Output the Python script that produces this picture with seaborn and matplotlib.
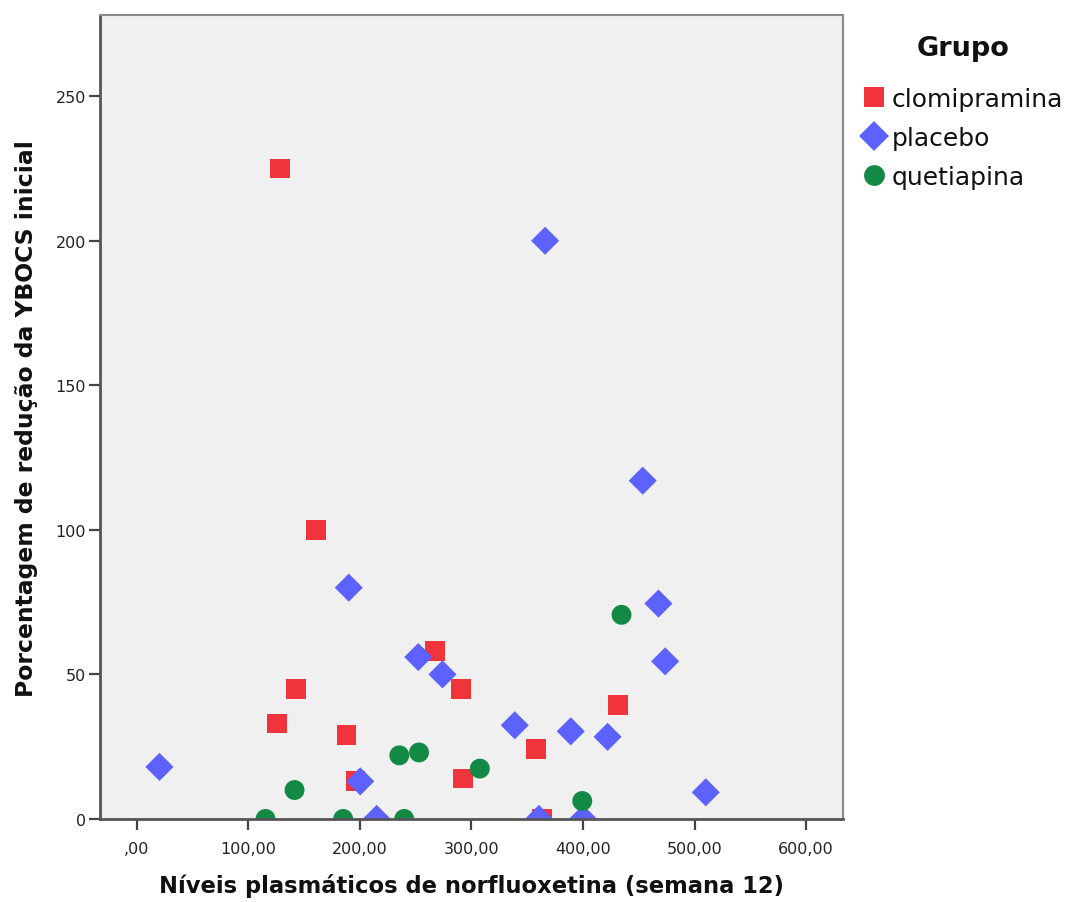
import pandas as pd
import matplotlib
matplotlib.use("Agg")
import matplotlib.pyplot as plt
from matplotlib.lines import Line2D
from matplotlib.ticker import FuncFormatter
import seaborn as sns

# values (x: ng/ml, y: % reduction)
clomi_x = [128, 160.5, 142.6, 125.6, 188, 196, 267, 291, 292.6, 358, 431, 363]
clomi_y = [225, 100, 45, 33, 29, 13, 58, 45, 14, 24.3, 39.4, 0]

placebo_x = [366, 453.5, 467.6, 473.6, 190, 252.3, 274, 338.8, 389, 422, 20.3, 200.3, 510, 215, 360.5, 400]
placebo_y = [200, 117, 74.5, 54.5, 80, 56, 50, 32.4, 30.3, 28.4, 18, 13, 9.2, 0, 0, 0]

quet_x = [434.5, 307.5, 235.3, 253, 141.4, 399.3, 115.4, 185, 239.7]
quet_y = [70.6, 17.4, 22, 23, 10, 6.2, 0, 0, 0]

groups = ["clomipramina", "placebo", "quetiapina"]
x_ticks = [0, 100, 200, 300, 400, 500, 600]
y_ticks = [0, 50, 100, 150, 200, 250]

palette = {"clomipramina": "#F0343C", "placebo": "#5D62FF", "quetiapina": "#128A45"}
markers = {"clomipramina": "s", "placebo": "D", "quetiapina": "o"}

df = pd.concat([
    pd.DataFrame({"x": clomi_x, "y": clomi_y, "Grupo": "clomipramina"}),
    pd.DataFrame({"x": placebo_x, "y": placebo_y, "Grupo": "placebo"}),
    pd.DataFrame({"x": quet_x, "y": quet_y, "Grupo": "quetiapina"}),
], ignore_index=True)

sns.set_style("white")
plt.rcParams["font.family"] = ["DejaVu Sans"]

fig = plt.figure(figsize=(10.68, 9.03), dpi=100)
ax = fig.add_axes([0.0936, 0.092, 0.6957, 0.890])
ax.set_facecolor("#F0F0F0")

sns.scatterplot(data=df, x="x", y="y", hue="Grupo", style="Grupo",
                palette=palette, markers=markers, hue_order=groups, style_order=groups,
                s=205, linewidth=0, edgecolor="none", legend=False, ax=ax)

ax.set_xlim(-33, 633)
ax.set_ylim(0, 278)
ax.set_xticks(x_ticks)
ax.set_yticks(y_ticks)


def fmt_comma(v, pos):
    if v == 0:
        return ",00"
    return f"{v:.2f}".replace(".", ",")


ax.xaxis.set_major_formatter(FuncFormatter(fmt_comma))
ax.tick_params(axis="both", direction="out", length=8, width=1.6, color="#444444",
               labelsize=11.5, labelcolor="#222222", left=True, bottom=True)
ax.tick_params(axis="x", pad=8)
ax.tick_params(axis="y", pad=2)

for side in ["left", "bottom"]:
    ax.spines[side].set_color("#555555")
    ax.spines[side].set_linewidth(2)
for side in ["top", "right"]:
    ax.spines[side].set_color("#8A8A8A")
    ax.spines[side].set_linewidth(1.5)

ax.set_xlabel("Níveis plasmáticos de norfluoxetina (semana 12)", fontsize=16.3,
              fontweight="bold", labelpad=12, color="#111111")
ax.set_ylabel("Porcentagem de redução da YBOCS inicial", fontsize=16.9,
              fontweight="bold", labelpad=13, color="#111111")

handles = [Line2D([], [], linestyle="none", marker=markers[g], color=palette[g],
                  markersize=15, markeredgewidth=0)
           for g in groups]
leg = ax.legend(handles, groups, loc="upper left",
                bbox_to_anchor=(1.005, 0.933), frameon=False, fontsize=18,
                handlelength=0.8, handletextpad=0.3, labelspacing=0.6,
                borderaxespad=0.3, labelcolor="#111111")
fig.text(963 / 1068, 1 - 49 / 903, "Grupo", ha="center", va="center",
         fontsize=19.5, fontweight="bold", color="#111111")

fig.savefig("out.png", dpi=100)
